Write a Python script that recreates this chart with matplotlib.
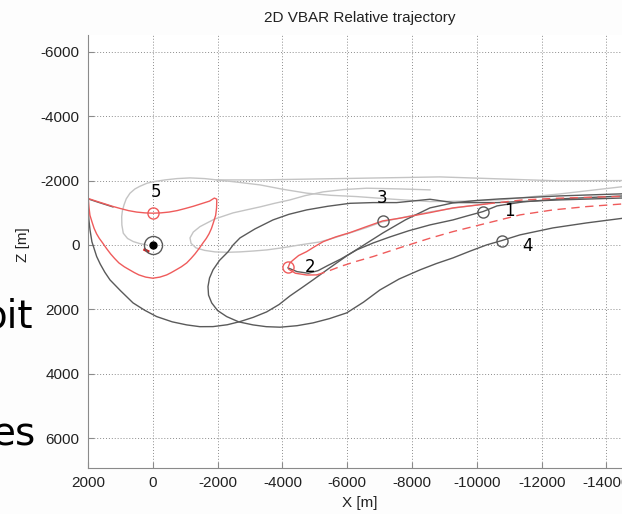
import matplotlib
matplotlib.use("Agg")
import matplotlib.pyplot as plt

plt.rcParams["axes.unicode_minus"] = False

# ---- data (X [m], Z [m]) ----
# red "bowl" around the target (marker 5): top arc, then right side, bottom, left side
bowl_x = [1990, 1750, 1500, 1250, 1000, 750, 500, 250, 0, -250, -500, -750, -1000, -1250, -1500, -1750, -1900,
          -1975, -1968, -1940, -1867, -1810, -1734, -1650, -1549, -1430, -1302, -1180, -1046, -880, -716,
          -570, -429, -220, 0, 220, 429, 570, 716, 880, 1046, 1180, 1302, 1430, 1549, 1650, 1734, 1810,
          1867, 1940, 1968, 1990]
bowl_z = [-1440, -1360, -1280, -1200, -1130, -1065, -1020, -995, -985, -995, -1020, -1065, -1130, -1200, -1280,
          -1360, -1455, -1420, -1150, -920, -683, -510, -342, -200, -62, 110, 280, 420, 560, 680, 776,
          860, 932, 1000, 1035, 1000, 932, 860, 776, 680, 560, 420, 280, 110, -62, -200, -342, -510,
          -683, -920, -1150, -1440]

# red branch from marker 2 up through marker 3 (solid) then dashed
red_up_x = [-4180, -4230, -4336, -4500, -4749, -5000, -5261, -5650, -6085, -6600, -7094, -7628, -8554,
            -9264, -10304]
red_up_z = [693, 560, 466, 330, 208, 50, -102, -250, -382, -570, -745, -830, -1003, -1149, -1273]
red_up_dash_x = [-10304, -11424, -12500, -13500, -14600]
red_up_dash_z = [-1273, -1398, -1450, -1480, -1510]

# red lower branch from marker 2 (short solid part, then dashed)
red_low_x = [-4200, -4400, -4749, -5058]
red_low_z = [760, 880, 935, 932]
red_low_dash_x = [-5058, -5400, -5777, -6250, -6795, -7650, -8554, -9264, -10304, -11332, -12350, -13390, -14600]
red_low_dash_z = [932, 820, 674, 520, 363, 80, -208, -413, -674, -932, -1087, -1190, -1280]

red_tick_x = [250, 150]
red_tick_z = [150, 200]

# dark grey trajectories
dark_a_x = [1230, 1700, 2000, 1995, 1975, 1938, 1880, 1800, 1732, 1620, 1480, 1321, 1000, 611, 250, -120,
            -600, -1046, -1450, -1858, -2300, -2691, -3100, -3514, -3900, -4234, -4600, -4944, -5450,
            -5983, -6550, -7104, -7800, -8554, -9264, -10000, -10714, -12566, -14600]
dark_a_z = [-1180, -1330, -1430, -1300, -800, -466, -100, 150, 363, 600, 850, 1087, 1420, 1801, 2030, 2227,
            2390, 2485, 2540, 2538, 2480, 2382, 2250, 2081, 1850, 1584, 1330, 1087, 720,
            342, -20, -373, -780, -1149, -1305, -1380, -1429, -1522, -1590]

dark_b_x = [-14600, -12566, -10622, -9264, -8554, -7526, -6795, -6085, -5400, -4749, -4200, -3709, -3154,
            -2691, -2480, -2320, -2060, -1858, -1750, -1703, -1720, -1817, -2000, -2280, -2650, -3092,
            -3500, -3931, -4450, -4944, -5450, -5983, -6500, -7011, -7600, -8245, -8750, -9264, -9800,
            -10304, -10767, -11331, -12350, -13389, -14600]
dark_b_z = [-1460, -1398, -1314, -1314, -1418, -1314, -1314, -1292, -1200, -1087, -950, -776, -497,
            -217, 0, 217, 480, 776, 1030, 1295, 1560, 1801, 2040, 2227, 2390, 2485,
            2540, 2556, 2510, 2423, 2290, 2112, 1780, 1398, 1060, 776, 580, 404, 190,
            0, -134, -311, -528, -683, -840]

dark_f_x = [-4172, -4450, -4800, -5100, -5400, -5800, -6292, -6800, -7320, -7900, -8554, -9264, -9700,
            -10190, -10622, -11424, -12566, -14600]
dark_f_z = [714, 830, 880, 800, 640, 440, 155, -60, -248, -440, -621, -776, -900,
            -1035, -1211, -1336, -1429, -1525]

# light grey trajectories
light_1_x = [-14600, -12566, -10714, -8862, -7011, -5160, -3308, -1972, -1600, -1148, -750, -376, 0, 179,
             400, 550, 704, 820, 889, 940, 960, 955, 911, 780, 602, 400, 190]
light_1_z = [-2000, -1988, -2050, -2112, -2081, -2050, -2019, -2019, -2060, -2081, -2060, -2019, -1960, -1916,
             -1820, -1739, -1606, -1430, -1242, -1050, -879, -620, -363, -200, -103, -40, 0]

light_2_x = [-1972, -2600, -3308, -4000, -4758, -5500, -6292, -7400, -8554, -9600, -10714, -12566, -14600]
light_2_z = [-2019, -1950, -1864, -1730, -1606, -1540, -1501, -1420, -1346, -1360, -1398, -1584, -1820]

light_3_x = [-8554, -7600, -6601, -5900, -5252, -4700, -4234, -3750, -3308, -2900, -2475, -1900, -1456,
             -1250, -1148, -1180, -1333, -1600, -1919, -2300, -2691, -3100, -3524, -4000, -4542, -5160,
             -5600, -6085, -6600, -7073, -7800, -8554, -9400, -10273]
light_3_z = [-1709, -1740, -1761, -1720, -1646, -1530, -1398, -1290, -1180, -1090, -994, -800, -568,
             -400, -217, -50, 93, 170, 217, 230, 217, 190, 155, 90, 0, -93,
             -220, -373, -540, -714, -870, -1025, -1160, -1273]

# numbered way-points
red_mark_x = [0, -4180]
red_mark_z = [-1000, 700]
grey_mark_x = [-7094, -10199, -10767]
grey_mark_z = [-745, -1035, -134]
label_text = ["5", "2", "3", "1", "4"]
label_x = [-98, -4851, -7064, -11001, -11557]
label_z = [-1656, 693, -1450, -1066, 31]

x_ticks = [2000, 0, -2000, -4000, -6000, -8000, -10000, -12000, -14000]
z_ticks = [-6000, -4000, -2000, 0, 2000, 4000, 6000]

RED = "#ef5b5b"
DARK = "#5a5a5a"
LIGHT = "#c4c4c4"

fig = plt.figure(figsize=(6.22, 5.14), dpi=100)
fig.patch.set_facecolor("#fdfdfd")
ax = fig.add_axes([88 / 622, 1 - 468 / 514, 1 - 88 / 622, (468 - 35) / 514])
ax.set_facecolor("white")

lw = 1.0
ax.plot(light_1_x, light_1_z, color=LIGHT, lw=lw)
ax.plot(light_2_x, light_2_z, color=LIGHT, lw=lw)
ax.plot(light_3_x, light_3_z, color=LIGHT, lw=lw)
ax.plot(dark_a_x, dark_a_z, color=DARK, lw=lw)
ax.plot(dark_b_x, dark_b_z, color=DARK, lw=lw)
ax.plot(dark_f_x, dark_f_z, color=DARK, lw=lw)
ax.plot(bowl_x, bowl_z, color=RED, lw=lw)
ax.plot(red_up_x, red_up_z, color=RED, lw=lw)
ax.plot(red_up_dash_x, red_up_dash_z, color=RED, lw=lw, ls=(0, (6, 4)))
ax.plot(red_low_x, red_low_z, color=RED, lw=lw)
ax.plot(red_low_dash_x, red_low_dash_z, color=RED, lw=lw, ls=(0, (6, 4)))
ax.plot(red_tick_x, red_tick_z, color="#d02020", lw=2)

# target at the origin
ax.plot([0], [0], "o", ms=13, mfc="none", mec=DARK, mew=1)
ax.plot([0], [0], "o", ms=5, color="black")

ax.plot(red_mark_x, red_mark_z, "o", ms=8, mfc="none", mec=RED, mew=1)
ax.plot(grey_mark_x, grey_mark_z, "o", ms=8, mfc="none", mec=DARK, mew=1)
for t, x, z in zip(label_text, label_x, label_z):
    ax.text(x, z, t, fontsize=12, ha="center", va="center", color="black",
            family="DejaVu Sans")

ax.set_xlim(2000, -14480)
ax.set_ylim(6930, -6520)
ax.set_xticks(x_ticks)
ax.set_yticks(z_ticks)
ax.grid(True, color="#8c8c8c", ls=(0, (1, 2)), lw=0.7)
for s in ["top", "right"]:
    ax.spines[s].set_visible(False)
for s in ["left", "bottom"]:
    ax.spines[s].set_color("#8a8a8a")
ax.tick_params(direction="in", length=4, color="#8a8a8a", labelsize=11,
               labelcolor="#222222", pad=6)
for lab in ax.get_xticklabels() + ax.get_yticklabels():
    lab.set_family("Liberation Sans")

fig.text(360 / 622, 1 - 18 / 514, "2D VBAR Relative trajectory", ha="center", va="center",
         fontsize=11, family="Liberation Sans", color="#222222")
fig.text(360 / 622, 1 - 503 / 514, "X [m]", ha="center", va="center",
         fontsize=11, family="Liberation Sans", color="#222222")
fig.text(23 / 622, 1 - 245 / 514, "Z [m]", ha="center", va="center", rotation=90,
         fontsize=11, family="Liberation Sans", color="#222222")

# slide text bleeding in from the left
fig.text(33 / 622, 1 - 327 / 514, "bit", ha="right", va="baseline", fontsize=28,
         family="DejaVu Sans", color="black")
fig.text(36 / 622, 1 - 445 / 514, "es", ha="right", va="baseline", fontsize=28,
         family="DejaVu Sans", color="black")

fig.savefig("out.png", dpi=100, facecolor=fig.get_facecolor())
